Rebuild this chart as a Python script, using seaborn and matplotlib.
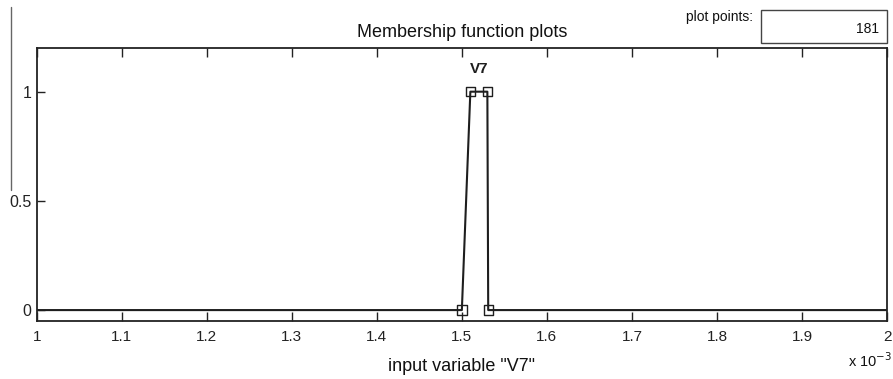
import numpy as np
import pandas as pd
import matplotlib
matplotlib.use("Agg")
import matplotlib.pyplot as plt
import seaborn as sns
from matplotlib.ticker import FuncFormatter, FixedLocator
from matplotlib.patches import Rectangle
from matplotlib.lines import Line2D

# Data
mf_name = "V7"
mf_params = [1.500e-3, 1.510e-3, 1.530e-3, 1.531e-3]   # trapezoid corners
mf_heights = [0.0, 1.0, 1.0, 0.0]
x_range = [1.0e-3, 2.0e-3]
x_ticks = [1.0e-3, 1.1e-3, 1.2e-3, 1.3e-3, 1.4e-3, 1.5e-3, 1.6e-3, 1.7e-3, 1.8e-3, 1.9e-3, 2.0e-3]
y_ticks = [0, 0.5, 1]
plot_points = "181"

sns.set_style("white")
plt.rcParams['font.family'] = ['Liberation Sans', 'DejaVu Sans']

fig = plt.figure(figsize=(8.93, 3.79), dpi=100)
ax = fig.add_axes([0.0411, 1 - 321/379, (887 - 36.7)/893, (321 - 48)/379])

line_x = [x_range[0]] + mf_params + [x_range[1]]
line_y = [0.0] + mf_heights + [0.0]
df = pd.DataFrame({"x": line_x, "y": line_y})
sns.lineplot(data=df, x="x", y="y", ax=ax, color="#1e1e1e", linewidth=1.5,
             sort=False, estimator=None)
pts = pd.DataFrame({"x": mf_params, "y": mf_heights})
sns.scatterplot(data=pts, x="x", y="y", ax=ax, marker="s", s=45,
                facecolor="none", edgecolor="#1e1e1e", linewidth=1.0, zorder=5)

ax.text(np.mean(mf_params[1:3]), 1.07, mf_name, ha="center", va="bottom",
        fontsize=11, fontweight="bold", color="#1e1e1e")

ax.set_xlim(x_range)
ax.set_ylim(-0.05, 1.2)
ax.xaxis.set_major_locator(FixedLocator(x_ticks))
ax.yaxis.set_major_locator(FixedLocator(y_ticks))
ax.xaxis.set_major_formatter(FuncFormatter(lambda v, p: f"{v*1e3:g}"))
ax.yaxis.set_major_formatter(FuncFormatter(lambda v, p: f"{v:g}"))
ax.tick_params(axis="x", direction="in", length=6.5, width=1, top=True, bottom=True,
               labelsize=11, pad=6.5, colors="#222222")
ax.tick_params(axis="y", direction="in", length=5.5, width=1, left=True, right=False,
               labelsize=11.5, pad=4, colors="#222222")
for s in ax.spines.values():
    s.set_color("#222222")
    s.set_linewidth(1.3)
ax.set_xlabel('input variable "V7"', fontsize=13, color="#111111", va="top")
ax.xaxis.set_label_coords(0.5, -(358 - 321) / 273)
ax.set_ylabel("")
ax.set_title("Membership function plots", fontsize=13, pad=8, color="#111111")

fig.text(892/893, 1 - 367/379, r"x 10$^{-3}$", ha="right", va="baseline", fontsize=10.5, color="#111111")

# GUI elements
fig.text(753/893, 1 - 20.5/379, "plot points:", ha="right", va="baseline", fontsize=10, color="#111111")
box = Rectangle((761/893, 1 - 43/379), (886.5-761)/893, (43-9.5)/379, transform=fig.transFigure,
                facecolor="white", edgecolor="#444444", linewidth=1.0)
fig.patches.append(box)
fig.text(879/893, 1 - 33/379, plot_points, ha="right", va="baseline", fontsize=10, color="#111111")
fig.lines.append(Line2D([10.7/893, 10.7/893], [1 - 7/379, 1 - 190/379],
                        transform=fig.transFigure, color="#666666", linewidth=1.0))

fig.savefig("out.png", dpi=100)
